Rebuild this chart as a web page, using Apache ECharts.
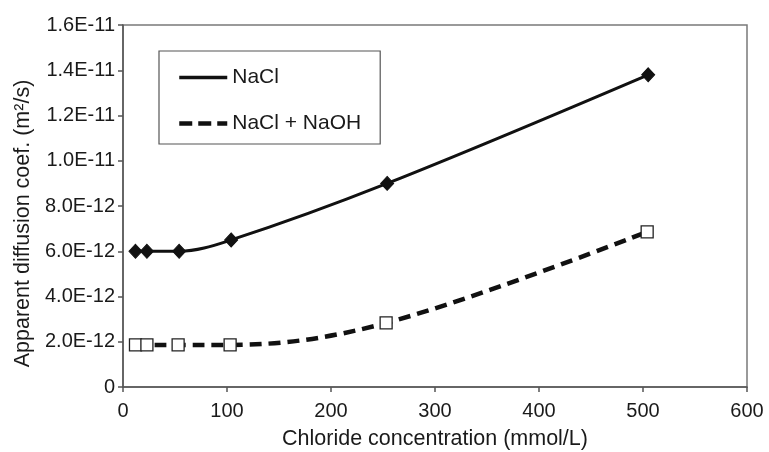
<!DOCTYPE html>
<html>
<head>
<meta charset="utf-8">
<script src="https://cdn.jsdelivr.net/npm/echarts@6/dist/echarts.min.js"></script>
<style>
html,body{margin:0;padding:0;background:#fff;}
#chart{width:769px;height:452px;}
</style>
</head>
<body>
<div id="chart"></div>
<script>
// Data
var xNaCl = [12, 23, 54, 104, 254, 505];
var yNaCl = [6.0e-12, 6.0e-12, 6.0e-12, 6.5e-12, 9.0e-12, 1.38e-11];
var xNaOH = [12, 23, 53, 103, 253, 504];
var yNaOH = [1.86e-12, 1.86e-12, 1.86e-12, 1.86e-12, 2.83e-12, 6.86e-12];
var seriesNames = ['NaCl', 'NaCl + NaOH'];
var xTitle = 'Chloride concentration (mmol/L)';
var yTitle = 'Apparent diffusion coef. (m\u00B2/s)';

function pairs(xs, ys) { return xs.map(function (x, i) { return [x, ys[i]]; }); }

var FONT = 'Liberation Sans, Arial, Helvetica, sans-serif';
var TXT = '#1a1a1a';
var chart = echarts.init(document.getElementById('chart'), null, {renderer: 'canvas'});
chart.setOption({
  animation: false,
  backgroundColor: '#fff',
  grid: {left: 123, right: 22, top: 25, bottom: 65, show: true, borderColor: '#7a7a7a', borderWidth: 1.5,
         containLabel: false, outerBoundsMode: 'none'},
  legend: {
    orient: 'vertical', left: 159, top: 51,
    data: [
      {name: seriesNames[0], lineStyle: {width: 3.5, type: 'solid', color: '#111'}},
      {name: seriesNames[1], lineStyle: {width: 4.5, type: [13, 6], color: '#111'}}
    ],
    itemWidth: 48, itemHeight: 20, itemGap: 25,
    padding: [16, 19, 10, 18],
    borderColor: '#555', borderWidth: 1.2,
    textStyle: {fontFamily: FONT, fontSize: 21, color: TXT},
    itemStyle: {color: 'transparent', borderColor: 'transparent', borderWidth: 0, opacity: 0}
  },
  xAxis: {
    type: 'value', min: 0, max: 600, interval: 100,
    name: xTitle, nameLocation: 'middle', nameGap: 41,
    nameTextStyle: {fontFamily: FONT, fontSize: 21.5, color: TXT},
    axisLine: {show: true, onZero: false, lineStyle: {color: '#555', width: 1.5}},
    axisTick: {show: true, inside: false, length: 5, lineStyle: {color: '#555', width: 1.5}},
    axisLabel: {fontFamily: FONT, fontSize: 20, color: TXT, margin: 14},
    splitLine: {show: false}
  },
  yAxis: {
    type: 'value', min: 0, max: 1.6e-11, interval: 2e-12,
    name: yTitle, nameLocation: 'middle', nameGap: 82, nameRotate: 90,
    nameTextStyle: {fontFamily: FONT, fontSize: 21.5, color: TXT, padding: [0, 35, 0, 0]},
    axisLine: {show: true, onZero: false, lineStyle: {color: '#555', width: 1.5}},
    axisTick: {show: true, inside: false, length: 5, lineStyle: {color: '#555', width: 1.5}},
    axisLabel: {
      fontFamily: FONT, fontSize: 20, color: TXT, margin: 8,
      formatter: function (v) { return Math.abs(v) < 1e-15 ? '0' : v.toExponential(1).toUpperCase(); }
    },
    splitLine: {show: false}
  },
  series: [
    {
      name: seriesNames[0], type: 'line', smooth: 0.35,
      data: pairs(xNaCl, yNaCl),
      symbol: 'diamond', symbolSize: [13, 14],
      itemStyle: {color: '#111', borderColor: '#111'},
      lineStyle: {color: '#111', width: 3, type: 'solid'},
      z: 3
    },
    {
      name: seriesNames[1], type: 'line', smooth: 0.35,
      data: pairs(xNaOH, yNaOH),
      symbol: 'rect', symbolSize: 12,
      itemStyle: {color: '#fff', borderColor: '#222', borderWidth: 1.3},
      lineStyle: {color: '#111', width: 4.5, type: [12, 7]},
      z: 2
    }
  ]
});
</script>
</body>
</html>
